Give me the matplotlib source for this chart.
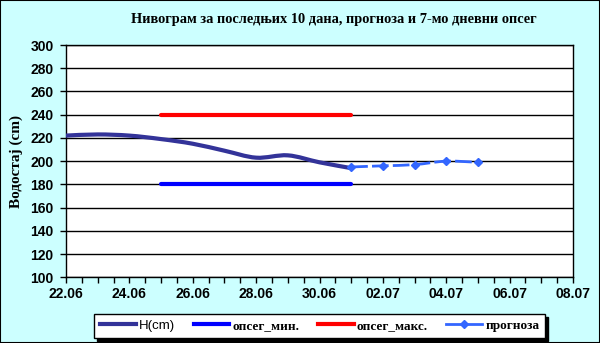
import numpy as np
import matplotlib as mpl
mpl.use('Agg')
from matplotlib import pyplot as plt
import matplotlib.dates as mdates
from matplotlib.path import Path
from matplotlib.patches import PathPatch, Rectangle
from matplotlib.lines import Line2D

# водостај за последњих 10 дана
h_dates = ['2011-06-22', '2011-06-23', '2011-06-24', '2011-06-25', '2011-06-26',
           '2011-06-27', '2011-06-28', '2011-06-29', '2011-06-30', '2011-07-01']
h_cm = [222, 223, 222, 219, 215, 209, 203, 205, 199, 194]

# прогноза
fc_dates = ['2011-07-01', '2011-07-02', '2011-07-03', '2011-07-04', '2011-07-05']
fc_cm = [195, 196, 197, 200, 199]

# 7-мо дневни опсег
band_dates = ['2011-06-25', '2011-07-01']
band_min = [180, 180]
band_max = [240, 240]

x_from, x_to = '2011-06-22', '2011-07-08'
y_from, y_to, y_step = 100, 300, 20

BG = '#CCFFFF'
SERIF = 'Liberation Serif'
SANS = 'Liberation Sans'


def to_num(dates):
    return mdates.date2num(np.array(dates, dtype='datetime64[D]'))


def smooth_path(x, y, t=1/6):
    # glatka kriva kroz tacke (Catmull-Rom preko Bezier segmenata)
    pts = np.column_stack([x, y])
    verts = [pts[0]]
    codes = [Path.MOVETO]
    n = len(pts)
    for i in range(n - 1):
        p0 = pts[max(i - 1, 0)]
        p1 = pts[i]
        p2 = pts[i + 1]
        p3 = pts[min(i + 2, n - 1)]
        c1 = p1 + (p2 - p0) * t
        c2 = p2 - (p3 - p1) * t
        verts += [c1, c2, p2]
        codes += [Path.CURVE4] * 3
    return Path(verts, codes)


fig = plt.figure(figsize=(6, 3.43), dpi=100, facecolor=BG)
fig.patches.append(Rectangle((0, 0), 1, 1, transform=fig.transFigure,
                             fill=False, edgecolor='black', lw=1.5))
ax = fig.add_axes([0.11, 0.1915, 0.845, 0.6773])

hx = to_num(h_dates)
fx = to_num(fc_dates)
bx = to_num(band_dates)

ax.add_patch(PathPatch(smooth_path(hx, h_cm), fill=False, edgecolor='#333399',
                       lw=3, capstyle='round', zorder=4))
ax.plot(bx, band_min, color='#0000FF', lw=3, solid_capstyle='round', zorder=3)
ax.plot(bx, band_max, color='#FF0000', lw=3, solid_capstyle='round', zorder=3)
ax.add_patch(PathPatch(smooth_path(fx, fc_cm), fill=False, edgecolor='#3366FF',
                       lw=2, linestyle=(0, (6, 1.5)), zorder=5))
ax.plot(fx, fc_cm, ls='none', marker='D', ms=4, color='#3366FF', zorder=6)

ax.set_xlim(to_num([x_from])[0], to_num([x_to])[0])
ax.set_ylim(y_from, y_to)
ax.set_yticks(np.arange(y_from, y_to + 1, y_step))
ax.xaxis.set_major_locator(mdates.DayLocator(interval=2))
ax.xaxis.set_major_formatter(mdates.DateFormatter('%d.%m'))
ax.xaxis.set_minor_locator(mdates.HourLocator(byhour=[0, 12]))
ax.grid(axis='y', color='black', lw=1)
ax.set_axisbelow(True)
for s in ax.spines.values():
    s.set_color('black')
    s.set_linewidth(1)
ax.tick_params(axis='both', which='both', direction='out', length=4,
               width=1, color='black')
ax.tick_params(axis='x', pad=3)
ax.tick_params(axis='y', pad=5)
for lab in ax.get_xticklabels() + ax.get_yticklabels():
    lab.set_fontfamily(SANS)
    lab.set_fontweight('bold')
    lab.set_fontsize(10)

ax.set_ylabel('Водостај (cm)', fontfamily=SERIF, fontweight='bold',
              fontsize=11, labelpad=5)
fig.text(0.557, 0.942, 'Нивограм за последњих 10 дана, прогноза и 7-мо дневни опсег',
         ha='center', va='center', fontfamily=SERIF, fontweight='bold', fontsize=10.4)

handles = [
    Line2D([], [], color='#333399', lw=3),
    Line2D([], [], color='#0000FF', lw=3),
    Line2D([], [], color='#FF0000', lw=3),
    Line2D([], [], color='#3366FF', lw=2, marker='D', ms=4, markevery=[1]),
]
labels = ['H(cm)', 'опсег_мин.', 'опсег_макс.', 'прогноза']
leg = fig.legend(handles, labels, loc='center', bbox_to_anchor=(0.533, 0.05),
                 ncol=4, frameon=True, fancybox=False, shadow={'color': 'black', 'alpha': 1},
                 edgecolor='black', framealpha=1, handlelength=2.7,
                 handletextpad=0.25, columnspacing=1.4, borderpad=0.45,
                 prop={'family': SERIF, 'weight': 'bold', 'size': 9.5})
leg.get_frame().set_linewidth(1)
leg.get_texts()[0].set_fontfamily(SANS)
leg.get_texts()[0].set_fontweight('normal')

fig.savefig('out.png', dpi=100, facecolor=BG)
